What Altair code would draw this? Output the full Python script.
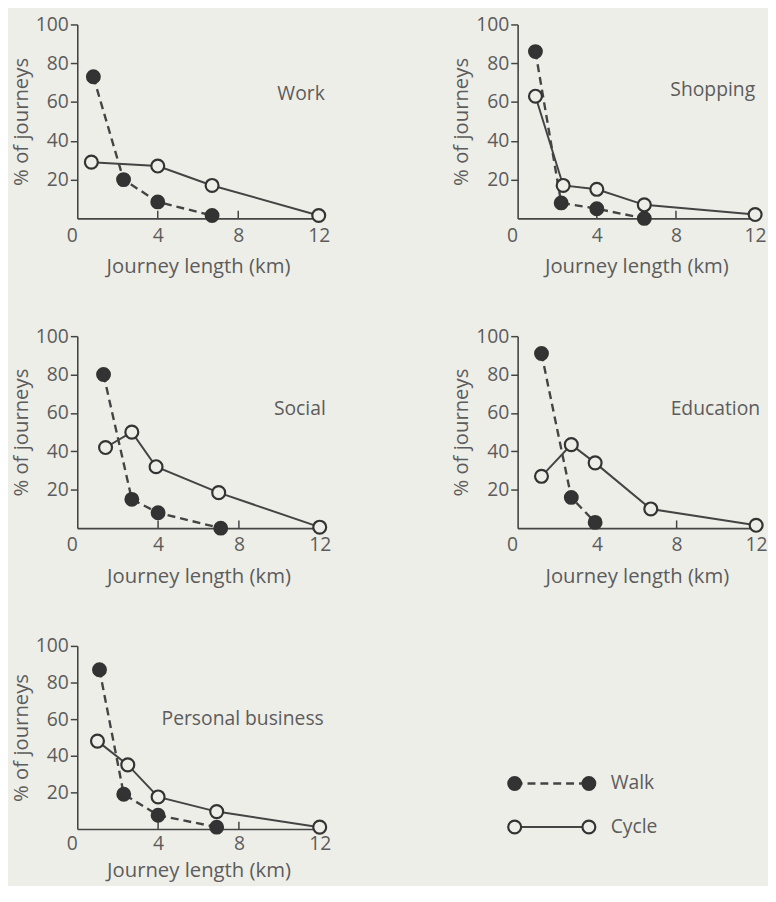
import altair as alt
import pandas as pd

# ---------------- data ----------------
x_ticks = [0, 4, 8, 12]
x_inner_ticks = [4, 8, 12]
y_ticks = [20, 40, 60, 80, 100]
legend_labels = ["Walk", "Cycle"]

work_walk_x = [0.8, 2.3, 4.0, 6.7]
work_walk_y = [73, 20, 8.5, 1.5]
work_cycle_x = [0.7, 4.0, 6.7, 12.0]
work_cycle_y = [29, 27, 17, 1.5]

shop_walk_x = [0.9, 2.2, 4.0, 6.4]
shop_walk_y = [86, 8, 5, 0]
shop_cycle_x = [0.9, 2.3, 4.0, 6.4, 12.0]
shop_cycle_y = [63, 17, 15, 7, 2]

social_walk_x = [1.3, 2.7, 4.0, 7.1]
social_walk_y = [80, 15, 8, 0]
social_cycle_x = [1.4, 2.7, 3.9, 7.0, 12.0]
social_cycle_y = [42, 50, 32, 18.5, 0.5]

edu_walk_x = [1.2, 2.7, 3.9]
edu_walk_y = [91, 16, 3]
edu_cycle_x = [1.2, 2.7, 3.9, 6.7, 12.0]
edu_cycle_y = [27, 43.5, 34, 10, 1.5]

pb_walk_x = [1.1, 2.3, 4.0, 6.9]
pb_walk_y = [87, 19, 7.5, 1]
pb_cycle_x = [1.0, 2.5, 4.0, 6.9, 12.0]
pb_cycle_y = [48, 35, 17.5, 9.5, 1]

# ---------------- style ----------------
BG = "#eeeee8"
DARK = "#333333"
LINE = "#444444"
TEXT = "#5c5c5c"
FONT = "Open Sans"
FS = 19.5
TFS = 20.5
MSIZE = 170


def panel(title, wx, wy, cx, cy, w=245, h=196, label_x=12.2,
          label_y=64, x_label_pad=8, x_title_pad=12):
    walk = pd.DataFrame({"x": wx, "y": wy})
    cycle = pd.DataFrame({"x": cx, "y": cy})
    xs = alt.Scale(domain=[0, 12], nice=False, zero=True)
    ys = alt.Scale(domain=[0, 100], nice=False)
    xax = alt.Axis(values=x_ticks, title="Journey length (km)", ticks=False,
                   labelPadding=x_label_pad, titlePadding=x_title_pad,
                   labelAlign={"condition": {"test": "datum.value === 0", "value": "right"},
                               "value": "center"})
    yax = alt.Axis(values=y_ticks, title="% of journeys", tickSize=7,
                   labelPadding=2, titlePadding=4)
    X = alt.X("x:Q", scale=xs, axis=xax)
    Y = alt.Y("y:Q", scale=ys, axis=yax)

    walk_line = alt.Chart(walk).mark_line(
        strokeDash=[8, 5], strokeWidth=2.4, color=LINE).encode(X, Y)
    cycle_line = alt.Chart(cycle).mark_line(
        strokeWidth=2, color=LINE).encode(X, Y)
    walk_pts = alt.Chart(walk).mark_point(
        shape="circle", filled=True, fill=DARK, stroke=DARK, size=MSIZE,
        opacity=1).encode(X, Y)
    cycle_pts = alt.Chart(cycle).mark_point(
        shape="circle", filled=True, fill=BG, stroke=DARK, strokeWidth=2.2,
        size=MSIZE, opacity=1).encode(X, Y)
    ticks = alt.Chart(pd.DataFrame({"x": x_inner_ticks})).mark_rule(
        color=LINE, strokeWidth=1.5).encode(
        x=alt.X("x:Q", scale=xs), y=alt.datum(0), y2=alt.datum(4))
    label = alt.Chart(pd.DataFrame({"t": [title]})).mark_text(
        align="right", baseline="middle", fontSize=FS, font=FONT,
        color=TEXT).encode(text="t:N", x=alt.datum(label_x), y=alt.datum(label_y))
    return alt.layer(ticks, cycle_line, walk_line, walk_pts, cycle_pts,
                     label).properties(width=w, height=h)


def legend_chart():
    ldf = pd.DataFrame({
        "label": legend_labels + legend_labels,
        "pos": [0, 0, 1, 1],
    })
    ysc = alt.Scale(type="point", domain=legend_labels, range=[139, 183], padding=0)
    xsc = alt.Scale(domain=[0, 1], range=[-3, 72])
    X = alt.X("pos:Q", scale=xsc, axis=None)
    Y = alt.Y("label:N", scale=ysc, axis=None)
    walk = ldf[ldf["label"] == "Walk"]
    cyc = ldf[ldf["label"] == "Cycle"]
    wl = alt.Chart(walk).mark_line(strokeDash=[8, 5], strokeWidth=2.4,
                                  color=LINE).encode(X, Y)
    cl = alt.Chart(cyc).mark_line(strokeWidth=2, color=LINE).encode(X, Y)
    wp = alt.Chart(walk).mark_point(shape="circle", filled=True, fill=DARK,
                                    stroke=DARK, size=MSIZE, opacity=1).encode(X, Y)
    cp = alt.Chart(cyc).mark_point(shape="circle", filled=True, fill=BG,
                                   stroke=DARK, strokeWidth=2.2, size=MSIZE,
                                   opacity=1).encode(X, Y)
    txt = alt.Chart(pd.DataFrame({"label": legend_labels})).transform_calculate(
        pos="1").mark_text(
        align="left", baseline="middle", fontSize=FS, font=FONT, color=TEXT,
        dx=22).encode(x=X, y=Y, text="label:N")
    return alt.layer(wl, cl, wp, cp, txt).properties(width=75, height=185)


panels = [
    panel("Work", work_walk_x, work_walk_y, work_cycle_x, work_cycle_y,
          w=244, h=196, label_x=12.3, label_y=64),
    panel("Shopping", shop_walk_x, shop_walk_y, shop_cycle_x, shop_cycle_y,
          w=240, h=196, label_x=12.0, label_y=66),
    panel("Social", social_walk_x, social_walk_y, social_cycle_x, social_cycle_y,
          w=245, h=194, label_x=12.3, label_y=62),
    panel("Education", edu_walk_x, edu_walk_y, edu_cycle_x, edu_cycle_y,
          w=241, h=194, label_x=12.2, label_y=62),
    panel("Personal business", pb_walk_x, pb_walk_y, pb_cycle_x, pb_cycle_y,
          w=245, h=185, label_x=12.2, label_y=60, x_label_pad=6, x_title_pad=8),
    legend_chart(),
]

chart = alt.concat(*panels, columns=2, spacing={"row": 119, "column": 200},
                   bounds="flush").properties(
    background=BG, padding={"left": 3, "top": 2, "right": 0, "bottom": 0}
).configure_view(stroke=None).configure_axis(
    grid=False, domainColor=LINE, domainWidth=1.6, tickColor=LINE, tickWidth=1.5,
    labelColor=TEXT, titleColor=TEXT, labelFont=FONT, titleFont=FONT,
    labelFontSize=FS, titleFontSize=TFS, titleFontWeight="normal"
)

chart.save("out.html", embed_options={"renderer": "svg", "actions": False})
